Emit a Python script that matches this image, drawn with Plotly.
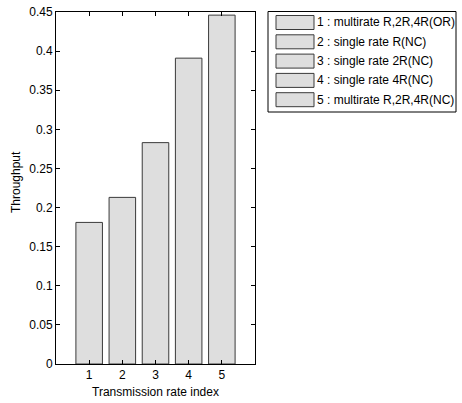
import plotly.graph_objects as go

# Data
categories = [1, 2, 3, 4, 5]
throughput = [0.181, 0.213, 0.283, 0.391, 0.446]
legend_labels = [
    "1 : multirate R,2R,4R(OR)",
    "2 : single rate R(NC)",
    "3 : single rate 2R(NC)",
    "4 : single rate 4R(NC)",
    "5 : multirate R,2R,4R(NC)",
]
y_ticks = [0, 0.05, 0.1, 0.15, 0.2, 0.25, 0.3, 0.35, 0.4, 0.45]
y_ticklabels = ["0", "0.05", "0.1", "0.15", "0.2", "0.25", "0.3", "0.35", "0.4", "0.45"]

W, H = 462, 403
L, R, T, B = 56, 255, 12, 364  # plot area in pixels
FONT = "Liberation Sans, Arial, Helvetica, sans-serif"
FS = 12
FILL = "#dedede"
EDGE = "#3a3a3a"


def px(x):
    return (x - L) / (R - L)


def py(y):
    return (B - y) / (B - T)


fig = go.Figure()
fig.add_trace(go.Bar(
    x=categories, y=throughput, width=0.8,
    marker=dict(color=FILL, line=dict(color=EDGE, width=1)),
    showlegend=False, hoverinfo="x+y",
))

axis_common = dict(
    showline=True, linecolor="black", linewidth=1, mirror="ticks",
    ticks="inside", ticklen=4, tickcolor="black", tickwidth=1,
    showgrid=False, zeroline=False, ticklabeloverflow="allow",
    tickfont=dict(family=FONT, size=FS, color="black"),
)

fig.update_layout(
    width=W, height=H,
    margin=dict(l=L, r=W - R, t=T, b=H - B, autoexpand=False),
    paper_bgcolor="white", plot_bgcolor="white",
    font=dict(family=FONT, size=FS, color="black"),
    xaxis=dict(range=[0, 6], tickvals=categories, **axis_common),
    yaxis=dict(range=[0, 0.45], tickvals=y_ticks, ticktext=y_ticklabels, **axis_common),
    showlegend=False,
)

annotations = [
    dict(text="Transmission rate index", xref="paper", yref="paper",
         x=0.5, y=py(392), xanchor="center", yanchor="middle", showarrow=False,
         font=dict(family=FONT, size=FS)),
    dict(text="Throughput", xref="paper", yref="paper",
         x=px(16), y=py(182), xanchor="center", yanchor="middle", textangle=-90,
         showarrow=False, font=dict(family=FONT, size=FS)),
]

shapes = [
    dict(type="rect", xref="paper", yref="paper",
         x0=px(268), x1=px(456), y0=py(112), y1=py(11.5),
         line=dict(color="black", width=1), fillcolor="white", layer="above"),
]
row0, step = 22.5, 19.3
for i, lab in enumerate(legend_labels):
    cy = row0 + i * step
    shapes.append(dict(type="rect", xref="paper", yref="paper",
                       x0=px(276), x1=px(314), y0=py(cy + 7), y1=py(cy - 7),
                       line=dict(color=EDGE, width=1), fillcolor=FILL, layer="above"))
    annotations.append(dict(text=lab, xref="paper", yref="paper",
                            x=px(315), y=py(cy), xanchor="left", yanchor="middle",
                            showarrow=False, font=dict(family=FONT, size=FS)))

fig.update_layout(shapes=shapes, annotations=annotations)
fig.write_html("out.html", config={"displayModeBar": False},
               post_script="document.body.style.margin='0';")
